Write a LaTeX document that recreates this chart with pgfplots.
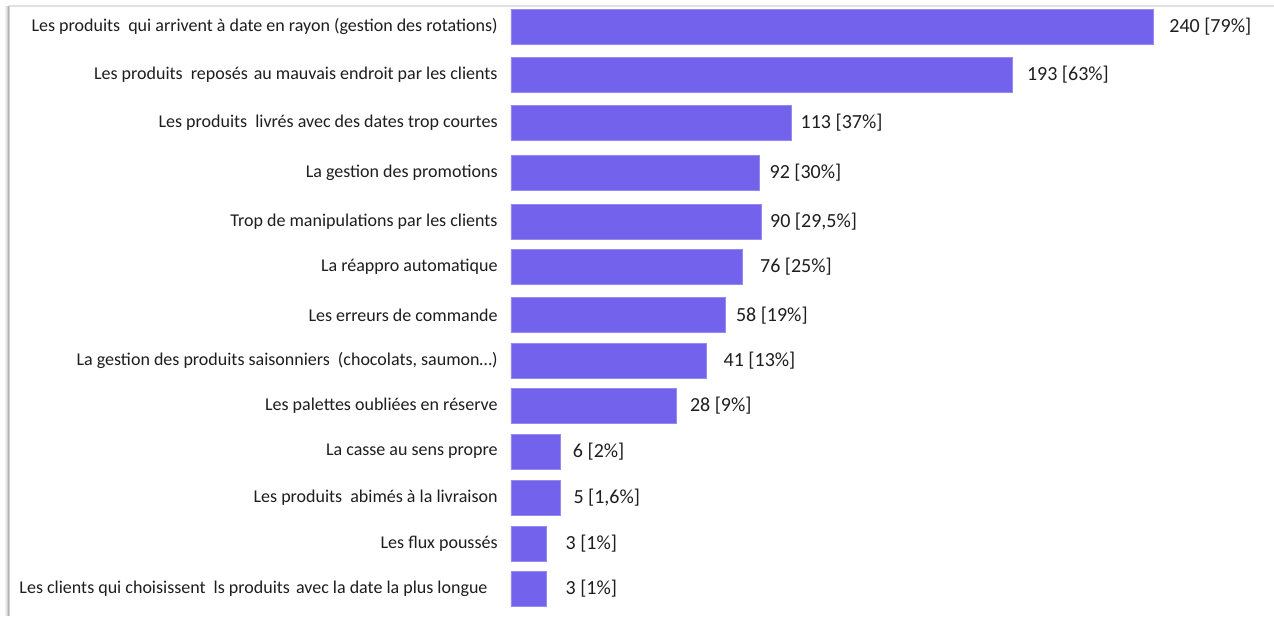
\documentclass[border=0pt]{standalone}
\usepackage{pgfplots}
\pgfplotsset{compat=1.18}
\usepackage{pgfplotstable}
\usepackage{fontspec}
\setmainfont{Carlito}
\definecolor{barcol}{RGB}{115,99,236}
\definecolor{txt}{RGB}{30,30,30}

% pos = bar centre (px from top), len = drawn bar length, dx = label gap (pt)
\pgfplotstableread[col sep=semicolon]{
pos;len;dx;lab
26.5;240;8;240 [79\%]
75;187.3;7.3;193 [63\%]
122.5;105;4.2;113 [37\%]
173;92.8;5;92 [30\%]
221.7;93.6;4.2;90 [29,5\%]
267;86.4;8.8;76 [25\%]
315.3;80;5.3;58 [19\%]
360.5;73;8.5;41 [13\%]
405.5;61.7;6.8;28 [9\%]
451.5;18.3;6.3;6 [2\%]
498;18.3;6.6;5 [1,6\%]
543.5;13.1;9.6;3 [1\%]
589;13.1;9.6;3 [1\%]
}\datatable

\begin{document}
\begin{tikzpicture}
\useasboundingbox (0,0) rectangle (637pt,308pt);
\fill[white] (0,0) rectangle (637pt,308pt);
% frame with soft shadow
\foreach \i/\o in {0/0.30,1/0.18,2/0.10,3/0.05}{
  \draw[black, opacity=\o, line width=0.5pt] (4.5pt-\i*0.5pt-0.5pt,0) -- (4.5pt-\i*0.5pt-0.5pt,305pt);
}
\draw[black!12, line width=0.6pt] (4.5pt,305pt) -- (637pt,305pt);
\draw[black!18, line width=0.5pt] (4.5pt,0) -- (4.5pt,305pt);
\begin{axis}[
  at={(255.5pt,308pt)}, anchor=north west,
  scale only axis, width=381.19pt, height=308pt,
  xmin=0, xmax=285, ymin=0, ymax=616, y dir=reverse,
  axis line style={draw=none},
  major tick length=0pt,
  xbar, bar width=17.5pt, bar shift=0pt,
  clip=false,
  ytick={26.5,75,122.5,173,221.7,267,315.3,360.5,405.5,451.5,498,543.5,589},
  yticklabels={
    {Les produits\hspace{2pt} qui arrivent à date en rayon (gestion des rotations)},
    {Les produits\hspace{2pt} reposés\hspace{1pt} au mauvais endroit par les clients},
    {Les produits\hspace{2pt} livrés avec des dates trop courtes},
    {La gestion des promotions},
    {Trop de manipulations par les clients},
    {La réappro automatique},
    {Les erreurs de commande},
    {La gestion des produits saisonniers\hspace{2pt} (chocolats, saumon…)},
    {Les palettes oubliées en réserve},
    {La casse au sens propre},
    {Les produits\hspace{2pt} abimés à la livraison},
    {Les flux poussés},
    {Les clients qui choisissent\hspace{2pt} ls produits\hspace{1pt} avec la date la plus longue\hspace*{5pt}}
  },
  yticklabel style={font=\fontsize{9}{10}\selectfont, text=txt, inner sep=0pt, anchor=east, xshift=-6.5pt},
  hide x axis,
  point meta=explicit symbolic,
  visualization depends on={\thisrow{dx} \as \dx},
  nodes near coords={\pgfplotspointmeta},
  nodes near coords style={font=\fontsize{10}{12}\selectfont, text=txt, anchor=west, inner sep=0pt, xshift=\dx pt},
]
\addplot[fill=barcol, draw=barcol!75!white, line width=0.4pt] table[x=len, y=pos, meta=lab] {\datatable};
\end{axis}
\end{tikzpicture}
\end{document}
